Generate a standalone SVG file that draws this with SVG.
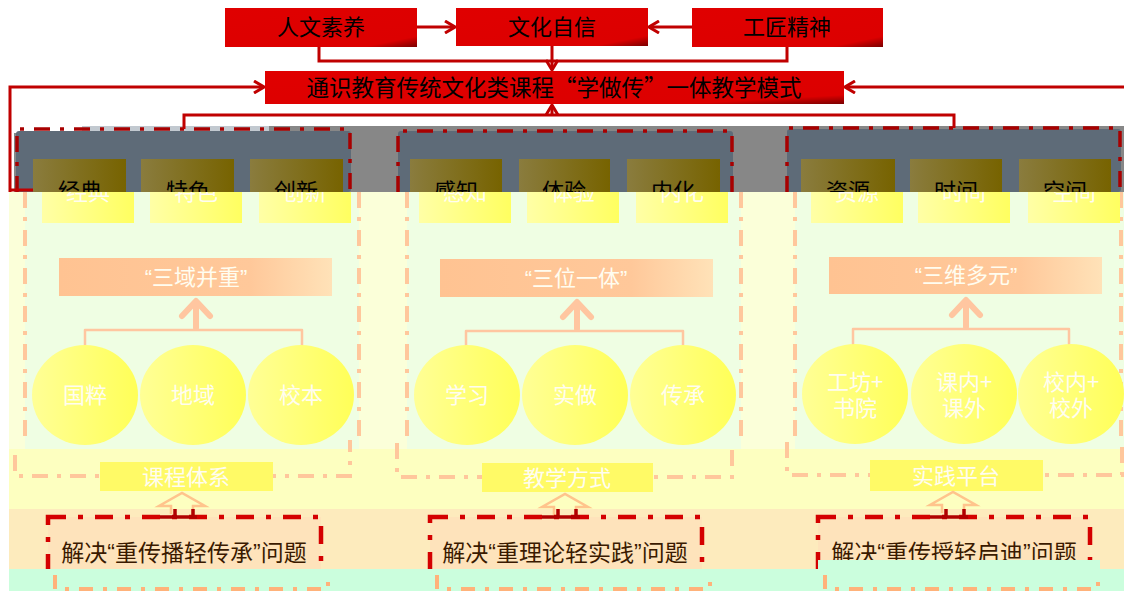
<svg xmlns="http://www.w3.org/2000/svg" width="1124" height="591" viewBox="0 0 1124 591">
<defs>
<linearGradient id="redg" x1="0" y1="0" x2="1" y2="1"><stop offset="0" stop-color="#e00000"/><stop offset="0.86" stop-color="#dc0000"/><stop offset="1" stop-color="#7a0000"/></linearGradient>
<linearGradient id="olive" x1="0" y1="0" x2="1" y2="0"><stop offset="0" stop-color="#8a7c3e"/><stop offset="1" stop-color="#776300"/></linearGradient>
<linearGradient id="ylw" x1="0" y1="0" x2="1" y2="0"><stop offset="0" stop-color="#ffffa6"/><stop offset="1" stop-color="#ffff60"/></linearGradient>
<linearGradient id="circ" x1="0" y1="0" x2="1" y2="0"><stop offset="0" stop-color="#ffff96"/><stop offset="1" stop-color="#ffff58"/></linearGradient>
<linearGradient id="hdr" x1="0" y1="0" x2="1" y2="0"><stop offset="0" stop-color="#ffc392"/><stop offset="0.7" stop-color="#ffc89a"/><stop offset="1" stop-color="#ffe2b8"/></linearGradient>
<marker id="ah" viewBox="0 0 12 14" refX="11" refY="7" markerWidth="12" markerHeight="14" markerUnits="userSpaceOnUse" orient="auto"><path d="M1,1 L11,7 L1,13" fill="none" stroke="#c00000" stroke-width="3"/></marker>
<clipPath id="lowclip"><rect x="0" y="192" width="1124" height="399"/></clipPath>
<clipPath id="upclip"><rect x="0" y="0" width="1124" height="192"/></clipPath>
<style>
.cjk{font-family:"Noto Sans CJK SC","Noto Sans CJK JP",sans-serif;text-anchor:middle}
.lat{font-family:"Liberation Sans",sans-serif}
.top{font-size:22px;fill:#000}
.redbox{fill:url(#redg)}
.conn{stroke:#c00000;stroke-width:3;fill:none}
.rdash{stroke:#a80000;stroke-width:3.5;fill:none;stroke-dasharray:16 10 4 10}
.slate{fill:#5e6b78}
.olive{fill:url(#olive)}
.wt{font-size:22px;fill:#fffdf0}
.ybox{fill:url(#ylw)}
.odash{stroke:#ffc79c;stroke-width:4;fill:none;stroke-dasharray:16 9 4 9}
.peach{stroke:#ffc6a0;fill:none;stroke-linecap:round;stroke-linejoin:round}
.circ{fill:url(#circ)}
.sec{fill:#fffa66}
.hollow{stroke:#ffc48c;stroke-width:2.5;fill:none}
.rbx{stroke:#d40000;stroke-width:4.5;fill:#fee3bb;stroke-dasharray:18 12 5 12}
.rtxt{font-size:23px;fill:#3a1a00}
.ldash{stroke:#ffb27a;stroke-width:4;fill:none;stroke-dasharray:14 10 4 10}
</style>
</defs>
<rect width="1124" height="591" fill="#ffffff"/>

<g id="upper-band">
<rect x="14" y="133" width="1110" height="59" fill="#878787"/>
<rect x="82" y="126" width="1042" height="7" fill="#878787"/>
<rect x="82" y="126" width="187" height="7" fill="#c2c9d0"/>
<rect class="slate" x="16" y="131" width="335" height="61" rx="3"/>
<rect class="slate" x="398" y="131" width="335" height="61" rx="3"/>
<rect class="slate" x="787" y="129" width="334" height="63" rx="3"/>
<path class="rdash" d="M17,192 V129 H350 V192"/>
<path class="rdash" d="M398,192 V131 H732 V192"/>
<path class="rdash" d="M787,192 V128 H1120 V192"/>
</g>

<g id="connectors">
<path class="conn" d="M417,27 H455" marker-end="url(#ah)"/>
<path class="conn" d="M692,27 H649" marker-end="url(#ah)"/>
<path class="conn" d="M319,47 V61 H552"/>
<path class="conn" d="M787,47 V61 H552"/>
<path class="conn" d="M552,46 V70" marker-end="url(#ah)"/>
<path class="conn" d="M10,192 V87 H264" marker-end="url(#ah)"/>
<path class="conn" d="M10,190 H33"/>
<path class="conn" d="M1124,87 H845" marker-end="url(#ah)"/>
<path class="conn" d="M184,129 V115 H954 V128"/>
<path class="conn" d="M552,115 V105" marker-end="url(#ah)"/>
</g>

<g id="n-renwen"><rect class="redbox" x="225" y="8" width="192" height="39"/><text class="cjk top" x="321" y="35">人文素养</text></g>
<g id="n-wenhua"><rect class="redbox" x="456" y="8" width="192" height="38"/><text class="cjk top" x="552" y="35">文化自信</text></g>
<g id="n-gongjiang"><rect class="redbox" x="692" y="8" width="191" height="39"/><text class="cjk top" x="787" y="35">工匠精神</text></g>
<g id="n-main"><rect class="redbox" x="265" y="71" width="579" height="33"/><text class="cjk top" x="554" y="96" style="font-size:22.5px">通识教育传统文化类课程“学做传”一体教学模式</text></g>

<g id="olive-boxes" clip-path="url(#upclip)">
<g id="o-jingdian"><rect class="olive" x="33" y="159" width="93" height="64"/><text class="cjk top" x="80" y="199">经典</text></g>
<g id="o-tese"><rect class="olive" x="141" y="159" width="93" height="64"/><text class="cjk top" x="188" y="199">特色</text></g>
<g id="o-chuangxin"><rect class="olive" x="250" y="159" width="93" height="64"/><text class="cjk top" x="296" y="199">创新</text></g>
<g id="o-ganzhi"><rect class="olive" x="410" y="159" width="92" height="64"/><text class="cjk top" x="456" y="199">感知</text></g>
<g id="o-tiyan"><rect class="olive" x="519" y="159" width="91" height="64"/><text class="cjk top" x="564" y="199">体验</text></g>
<g id="o-neihua"><rect class="olive" x="627" y="159" width="93" height="64"/><text class="cjk top" x="673" y="199">内化</text></g>
<g id="o-ziyuan"><rect class="olive" x="801" y="159" width="94" height="64"/><text class="cjk top" x="848" y="199">资源</text></g>
<g id="o-shijian"><rect class="olive" x="910" y="159" width="92" height="64"/><text class="cjk top" x="956" y="199">时间</text></g>
<g id="o-kongjian"><rect class="olive" x="1019" y="159" width="92" height="64"/><text class="cjk top" x="1065" y="199">空间</text></g>
</g>

<g id="lower" clip-path="url(#lowclip)">
<rect x="0" y="192" width="1124" height="399" fill="#ffffff"/>
<rect x="9" y="192" width="1115" height="257" fill="#fbffd9"/>
<rect x="25" y="192" width="334" height="257" fill="#effee3"/>
<rect x="407" y="192" width="334" height="257" fill="#effee3"/>
<rect x="795" y="192" width="329" height="257" fill="#effee3"/>
<rect x="9" y="449" width="1115" height="60" fill="#fdffc0"/>
<rect x="9" y="509" width="1115" height="60" fill="#fdebbd"/>

<path class="odash" d="M25,192 V445 M359,192 V440"/>
<path class="odash" d="M407,192 V445 M741,192 V440"/>
<path class="odash" d="M795,192 V445 M1121,192 V440"/>
<path class="odash" d="M15,455 V476 H350 V440"/>
<path class="odash" d="M397,443 V477 H732 V443"/>
<path class="odash" d="M787,442 V475 H1122 V443"/>

<g id="y-jingdian"><rect class="ybox" x="42" y="160" width="92" height="63"/><text class="cjk wt" x="88" y="200">经典</text></g>
<g id="y-tese"><rect class="ybox" x="150" y="160" width="92" height="63"/><text class="cjk wt" x="196" y="200">特色</text></g>
<g id="y-chuangxin"><rect class="ybox" x="259" y="160" width="92" height="63"/><text class="cjk wt" x="305" y="200">创新</text></g>
<g id="y-ganzhi"><rect class="ybox" x="419" y="160" width="92" height="63"/><text class="cjk wt" x="465" y="200">感知</text></g>
<g id="y-tiyan"><rect class="ybox" x="527" y="160" width="92" height="63"/><text class="cjk wt" x="573" y="200">体验</text></g>
<g id="y-neihua"><rect class="ybox" x="636" y="160" width="92" height="63"/><text class="cjk wt" x="682" y="200">内化</text></g>
<g id="y-ziyuan"><rect class="ybox" x="811" y="160" width="92" height="63"/><text class="cjk wt" x="857" y="200">资源</text></g>
<g id="y-shijian"><rect class="ybox" x="918" y="160" width="92" height="63"/><text class="cjk wt" x="964" y="200">时间</text></g>
<g id="y-kongjian"><rect class="ybox" x="1028" y="160" width="92" height="63"/><text class="cjk wt" x="1074" y="200">空间</text></g>

<g id="h-sanyu"><rect x="59" y="258" width="273" height="38" fill="url(#hdr)"/><text class="cjk wt" x="196" y="285"><tspan class="lat">“</tspan>三域并重<tspan class="lat">”</tspan></text></g>
<g id="h-sanwei"><rect x="440" y="259" width="273" height="38" fill="url(#hdr)"/><text class="cjk wt" x="576" y="286"><tspan class="lat">“</tspan>三位一体<tspan class="lat">”</tspan></text></g>
<g id="h-sanweiduo"><rect x="829" y="257" width="273" height="37" fill="url(#hdr)"/><text class="cjk wt" x="966" y="283"><tspan class="lat">“</tspan>三维多元<tspan class="lat">”</tspan></text></g>

<g id="up-arrows">
<path class="peach" stroke-width="6" d="M196,328 V302 M182,316 L196,301 L210,316"/>
<path class="peach" stroke-width="2.5" d="M85,345 V330 H302 V345"/>
<path class="peach" stroke-width="6" d="M577,329 V303 M563,317 L577,302 L591,317"/>
<path class="peach" stroke-width="2.5" d="M466,346 V331 H683 V346"/>
<path class="peach" stroke-width="6" d="M966,327 V301 M952,315 L966,300 L980,315"/>
<path class="peach" stroke-width="2.5" d="M853,344 V329 H1069 V344"/>
</g>

<g id="c-guocui"><ellipse class="circ" cx="85" cy="395" rx="53" ry="50"/><text class="cjk wt" x="85" y="403">国粹</text></g>
<g id="c-diyu"><ellipse class="circ" cx="193" cy="395" rx="53" ry="50"/><text class="cjk wt" x="193" y="403">地域</text></g>
<g id="c-xiaoben"><ellipse class="circ" cx="301" cy="395" rx="53" ry="50"/><text class="cjk wt" x="301" y="403">校本</text></g>
<g id="c-xuexi"><ellipse class="circ" cx="467" cy="395" rx="53" ry="50"/><text class="cjk wt" x="467" y="403">学习</text></g>
<g id="c-shizuo"><ellipse class="circ" cx="575" cy="395" rx="53" ry="50"/><text class="cjk wt" x="575" y="403">实做</text></g>
<g id="c-chuancheng"><ellipse class="circ" cx="683" cy="395" rx="53" ry="50"/><text class="cjk wt" x="683" y="403">传承</text></g>
<g id="c-gongfang"><ellipse class="circ" cx="855" cy="394" rx="53" ry="50"/><text class="cjk wt" x="855" y="390">工坊+</text><text class="cjk wt" x="855" y="416">书院</text></g>
<g id="c-kenei"><ellipse class="circ" cx="964" cy="394" rx="53" ry="50"/><text class="cjk wt" x="964" y="390">课内+</text><text class="cjk wt" x="964" y="416">课外</text></g>
<g id="c-xiaonei"><ellipse class="circ" cx="1071" cy="394" rx="53" ry="50"/><text class="cjk wt" x="1071" y="390">校内+</text><text class="cjk wt" x="1071" y="416">校外</text></g>

<g id="s-kecheng"><rect class="sec" x="100" y="462" width="173" height="29"/><text class="cjk wt" x="186" y="485">课程体系</text></g>
<g id="s-jiaoxue"><rect class="sec" x="482" y="463" width="171" height="29"/><text class="cjk wt" x="567" y="486">教学方式</text></g>
<g id="s-shijian"><rect class="sec" x="870" y="460" width="173" height="31"/><text class="cjk wt" x="956" y="484">实践平台</text></g>

<g id="hollow-arrows">
<path class="hollow" d="M171,514 V506 H159 L182,493 L205,506 H193 V514"/>
<path class="hollow" d="M554,515 V507 H542 L565,494 L588,507 H576 V515"/>
<path class="hollow" d="M942,513 V505 H930 L953,492 L976,505 H964 V513"/>
</g>

<g id="p-chuanbo"><rect class="rbx" x="48" y="517" width="273" height="60"/><path d="M160,517 H197 M175,509 V517 M193,509 V517" stroke="#b00000" stroke-width="3.5" fill="none"/><text class="cjk rtxt" x="184" y="561">解决<tspan class="lat">“</tspan>重传播轻传承<tspan class="lat">”</tspan>问题</text></g>
<g id="p-lilun"><rect class="rbx" x="430" y="517" width="272" height="60"/><path d="M542,517 H580 M558,509 V517 M576,509 V517" stroke="#b00000" stroke-width="3.5" fill="none"/><text class="cjk rtxt" x="565" y="561">解决<tspan class="lat">“</tspan>重理论轻实践<tspan class="lat">”</tspan>问题</text></g>
<g id="p-chuanshou"><rect class="rbx" x="818" y="517" width="272" height="60"/><path d="M930,517 H968 M946,509 V517 M964,509 V517" stroke="#b00000" stroke-width="3.5" fill="none"/><text class="cjk rtxt" x="954" y="561">解决<tspan class="lat">“</tspan>重传授轻启迪<tspan class="lat">”</tspan>问题</text></g>

<rect x="9" y="569" width="1115" height="22" fill="#cbfedd"/>
<rect x="818" y="560" width="282" height="9" fill="#cbfedd"/>
<path class="ldash" d="M55,575 V589 H328 V575"/>
<path class="ldash" d="M437,575 V589 H710 V575"/>
<path class="ldash" d="M825,575 V589 H1098 V575"/>
</g>
</svg>
